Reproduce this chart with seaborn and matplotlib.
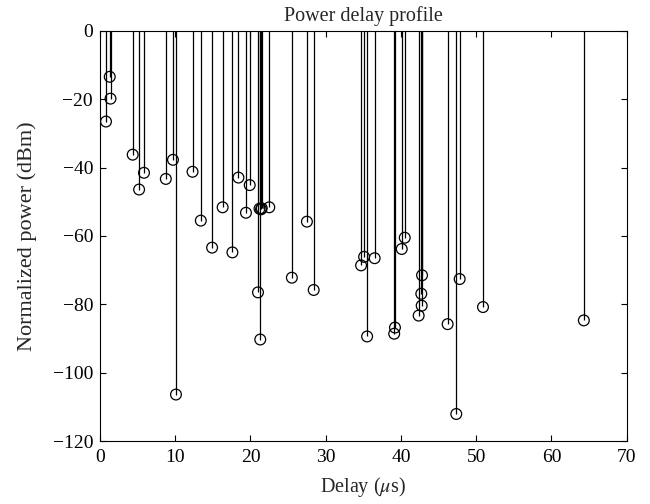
import numpy as np
import pandas as pd
import seaborn as sns
import matplotlib.pyplot as plt

delay_us = [0.8, 1.3, 1.4, 4.35, 5.2, 5.85, 8.75, 9.7, 10.1, 12.3, 13.4, 14.9,
            16.3, 17.6, 18.4, 19.4, 19.9, 21.0, 21.2, 21.3, 21.4, 21.5, 22.5,
            25.5, 27.5, 28.4, 34.7, 35.1, 35.5, 36.5, 39.1, 39.2, 40.1, 40.5,
            42.35, 42.7, 42.75, 42.8, 46.2, 47.35, 47.8, 50.9, 64.3]
power_dbm = [-26.5, -13.4, -19.8, -36.2, -46.4, -41.5, -43.3, -37.7, -106.4, -41.2, -55.5, -63.4,
             -51.6, -64.8, -42.9, -53.2, -45.1, -76.5, -52.0, -90.3, -52.2, -51.9, -51.6,
             -72.2, -55.8, -75.8, -68.6, -66.1, -89.4, -66.5, -88.6, -86.8, -63.8, -60.5,
             -83.3, -76.9, -80.4, -71.5, -85.8, -112.1, -72.6, -80.8, -84.7]

df = pd.DataFrame({"delay": delay_us, "power": power_dbm})

sns.set_style("ticks")
plt.rcParams["font.family"] = ["Liberation Serif", "DejaVu Serif"]
plt.rcParams["mathtext.fontset"] = "stix"

fig = plt.figure(figsize=(6.5, 5.04), dpi=100)
ax = fig.add_axes([0.1538, 0.125, 0.8104, 0.8135])

# stems from 0 dB down to each tap
ax.vlines(df["delay"], 0, df["power"], color="black", linewidth=0.9, zorder=2)
sns.scatterplot(data=df, x="delay", y="power", ax=ax, marker="o", s=60,
                facecolor="none", edgecolor="black", linewidth=0.9, zorder=3)

ax.set_xlim(0, 70)
ax.set_ylim(-120, 0)
ax.set_xticks(range(0, 71, 10))
ax.set_yticks(range(-120, 1, 20))
ax.tick_params(direction="in", top=True, right=True, labelsize=14, length=4,
               width=0.8, color="black", labelcolor="black")
ax.tick_params(axis="x", pad=6)
ax.tick_params(axis="y", pad=5)
for s in ax.spines.values():
    s.set_visible(True)
    s.set_color("black")
    s.set_linewidth(0.8)

ax.set_title("Power delay profile", fontsize=14.5, pad=7)
ax.set_xlabel(r"Delay ($\mu$s)", fontsize=14.5, labelpad=6)
ax.set_ylabel("Normalized power (dBm)", fontsize=16, labelpad=11)

fig.savefig("out.png", dpi=100)
